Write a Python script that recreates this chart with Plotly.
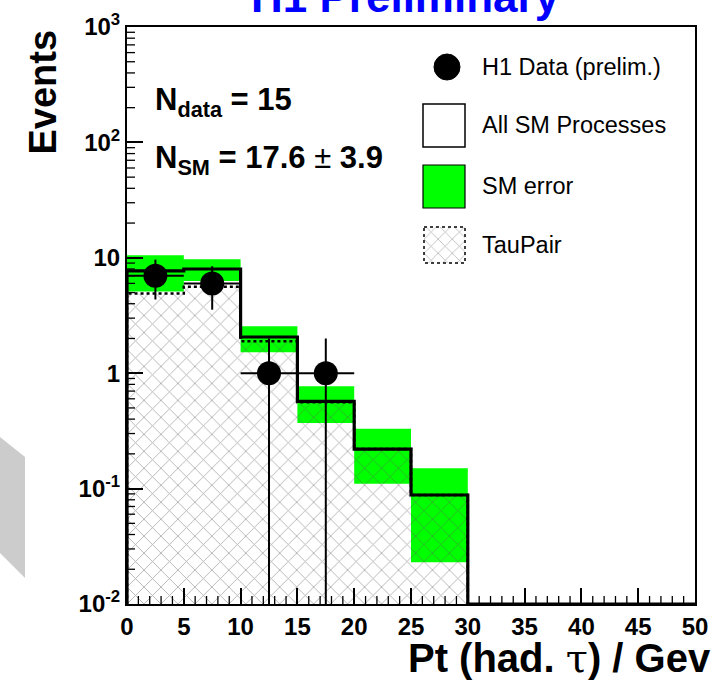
import numpy as np
import plotly.graph_objects as go

# ---------------- data ----------------
bin_edges = [0, 5, 10, 15, 20, 25, 30, 35, 40, 45, 50]
sm_total = [7.7, 8.0, 2.06, 0.57, 0.22, 0.088, 0, 0, 0, 0]
sm_err_up = [10.5, 9.7, 2.55, 0.77, 0.33, 0.15, 0, 0, 0, 0]
sm_err_lo = [5.1, 6.3, 1.52, 0.37, 0.11, 0.023, 0, 0, 0, 0]
taupair = [4.9, 5.6, 1.89, 0.56, 0.22, 0.088, 0, 0, 0, 0]
data_x = [2.5, 7.5, 12.5, 17.5]
data_y = [7, 6, 1, 1]
ytick_vals = [1e-2, 1e-1, 1, 10, 1e2, 1e3]
ytick_text = ["10<sup>-2</sup>", "10<sup>-1</sup>", "1", "10", "10<sup>2</sup>", "10<sup>3</sup>"]
xtick_vals = [0, 5, 10, 15, 20, 25, 30, 35, 40, 45, 50]

# ---------------- geometry ----------------
W, H = 725, 683
L, R, T, B = 127, 695, 27, 604
YMIN_EXP, YMAX_EXP = -2, 3
ymin = 10 ** YMIN_EXP
edges = np.array(bin_edges, dtype=float)
nb = len(edges) - 1

def PX(x):
    return (x - L) / (R - L)

def PY(y):
    return (B - y) / (B - T)

def DX(px):
    return edges[0] + PX(px) * (edges[-1] - edges[0])

def DY(py):
    return 10 ** (YMIN_EXP + PY(py) * (YMAX_EXP - YMIN_EXP))

# minor tick positions (axis decoration)
x_minor = [v for v in np.arange(edges[0], edges[-1] + 0.5, 1.0) if v % 5 != 0]
y_minor = [m * 10.0 ** e for e in range(YMIN_EXP, YMAX_EXP) for m in range(2, 10)]
MINOR_LEN = 8

fig = go.Figure()

# green SM error band
gx, gy = [], []
for i in range(nb):
    if sm_err_up[i] <= 0:
        continue
    x0, x1 = edges[i], edges[i + 1]
    lo, up = max(sm_err_lo[i], ymin), sm_err_up[i]
    gx += [x0, x1, x1, x0, x0, None]
    gy += [lo, lo, up, up, lo, None]
fig.add_trace(go.Scatter(x=gx, y=gy, mode="lines", fill="toself",
                         fillcolor="#00ff00", line=dict(width=0),
                         hoverinfo="skip", showlegend=False))

# TauPair hatched area
hatch = dict(shape="x", fgcolor="#5e5e5e", bgcolor="rgba(0,0,0,0)", size=12,
             solidity=0.14, fillmode="overlay")
tx, ty = [edges[0]], [ymin]
for i in range(nb):
    if taupair[i] <= 0:
        continue
    tx += [edges[i], edges[i + 1]]
    ty += [taupair[i], taupair[i]]
tx.append(tx[-1]); ty.append(ymin)
fig.add_trace(go.Scatter(x=tx, y=ty, mode="lines", fill="toself",
                         fillcolor="rgba(0,0,0,0)", fillpattern=hatch,
                         line=dict(color="black", width=2.5, dash="dot"),
                         hoverinfo="skip", showlegend=False))

# All SM step line
sx = [edges[0]]
sy = [ymin]
for i in range(nb):
    v = max(sm_total[i], ymin)
    sx += [edges[i], edges[i + 1]]
    sy += [v, v]
fig.add_trace(go.Scatter(x=sx, y=sy, mode="lines",
                         line=dict(color="black", width=3.2),
                         hoverinfo="skip", showlegend=False))

# data error bars
ex, ey = [], []
for xv, yv in zip(data_x, data_y):
    e = np.sqrt(yv)
    ex += [xv, xv, None]
    ey += [max(yv - e, ymin), yv + e, None]
fig.add_trace(go.Scatter(x=ex, y=ey, mode="lines",
                         line=dict(color="black", width=2),
                         hoverinfo="skip", showlegend=False))
half_w = [(edges[1] - edges[0]) / 2] * len(data_x)
fig.add_trace(go.Scatter(x=data_x, y=data_y, mode="markers",
                         marker=dict(symbol="circle", size=24, color="black"),
                         error_x=dict(type="data", array=half_w, width=0,
                                      thickness=2, color="black"),
                         hoverinfo="skip", showlegend=False))

# legend hatch box
hx = [DX(424), DX(465), DX(465), DX(424), DX(424)]
hy = [DY(227), DY(227), DY(263), DY(263), DY(227)]
fig.add_trace(go.Scatter(x=hx, y=hy, mode="lines", fill="toself",
                         fillcolor="rgba(0,0,0,0)", fillpattern=dict(hatch, size=10),
                         line=dict(color="black", width=1.5, dash="dot"),
                         hoverinfo="skip", showlegend=False))

shapes = [
    dict(type="circle", xref="paper", yref="paper", x0=PX(434), x1=PX(460),
         y0=PY(54), y1=PY(80), line=dict(color="black", width=1), fillcolor="black"),
    dict(type="rect", xref="paper", yref="paper", x0=PX(423), x1=PX(465), y0=PY(104), y1=PY(147),
         line=dict(color="black", width=1.5), fillcolor="white"),
    dict(type="rect", xref="paper", yref="paper", x0=PX(423), x1=PX(465), y0=PY(165), y1=PY(208),
         line=dict(color="black", width=1.2), fillcolor="#00ff00"),
    dict(type="path", xref="paper", yref="paper", fillcolor="#cccccc",
         line=dict(width=0), layer="below",
         path=f"M {PX(0)},{PY(437)} L {PX(25)},{PY(457)} L {PX(25)},{PY(578)} L {PX(0)},{PY(553)} Z"),
]
# minor ticks (inside, shorter than major ticks)
for xv in x_minor:
    shapes.append(dict(type="line", xref="x", yref="paper", x0=xv, x1=xv,
                       y0=0, y1=MINOR_LEN / (B - T), line=dict(color="black", width=1.3)))
for yv in y_minor:
    shapes.append(dict(type="line", xref="paper", yref="y", x0=0, x1=MINOR_LEN / (R - L),
                       y0=yv, y1=yv, line=dict(color="black", width=1.3)))

FONT = "Liberation Sans"
annotations = []
for txt, yy in [("H1 Data (prelim.)", 67), ("All SM Processes", 125),
                ("SM error", 186), ("TauPair", 245)]:
    annotations.append(dict(text=txt, xref="paper", yref="paper", x=PX(480), y=PY(yy),
                            xanchor="left", yanchor="middle", showarrow=False,
                            font=dict(family=FONT, size=23.5, color="black")))

annotations += [
    dict(text="<b>H1 Preliminary</b>", xref="paper", yref="paper", x=PX(405), y=PY(-3),
         xanchor="center", yanchor="middle", showarrow=False,
         font=dict(family=FONT, size=44, color="#0000ff")),
    dict(text="<b>Events</b>", xref="paper", yref="paper", x=PX(42), y=PY(28),
         xanchor="center", yanchor="top", textangle=-90, showarrow=False,
         font=dict(family=FONT, size=38, color="black")),
    dict(text="<b>Pt (had. </b><span style='font-family:DejaVu Serif'>τ</span><b>) / Gev</b>",
         xref="paper", yref="paper", x=PX(713), y=PY(658),
         xanchor="right", yanchor="middle", showarrow=False,
         font=dict(family=FONT, size=40, color="black")),
    dict(text="<b>N<sub>data</sub> = 15</b>", xref="paper", yref="paper", x=PX(153), y=PY(102),
         xanchor="left", yanchor="middle", showarrow=False,
         font=dict(family=FONT, size=31, color="black")),
    dict(text="<b>N<sub>SM</sub> = 17.6 </b>±<b> 3.9</b>", xref="paper", yref="paper", x=PX(153), y=PY(160),
         xanchor="left", yanchor="middle", showarrow=False,
         font=dict(family=FONT, size=31, color="black")),
]

tickfont = dict(family=FONT, size=24, color="black", weight="bold")
fig.update_layout(
    width=W, height=H,
    margin=dict(l=L, r=W - R, t=T, b=H - B, pad=0, autoexpand=False),
    paper_bgcolor="white", plot_bgcolor="white",
    showlegend=False,
    shapes=shapes, annotations=annotations,
    xaxis=dict(range=[edges[0], edges[-1]], tickmode="array", tickvals=xtick_vals,
               ticktext=[str(v) for v in xtick_vals], automargin=False,
               ticks="inside", ticklen=16, tickwidth=1.5, tickcolor="black",
               showline=True, linecolor="black", linewidth=2, mirror=True,
               showgrid=False, zeroline=False, tickfont=tickfont),
    yaxis=dict(type="log", range=[YMIN_EXP, YMAX_EXP], tickmode="array",
               tickvals=ytick_vals, ticktext=ytick_text, automargin=False,
               ticks="inside", ticklen=16, tickwidth=1.5, tickcolor="black",
               showline=True, linecolor="black", linewidth=2, mirror=True,
               showgrid=False, zeroline=False, tickfont=tickfont),
)

fig.write_html("out.html")
